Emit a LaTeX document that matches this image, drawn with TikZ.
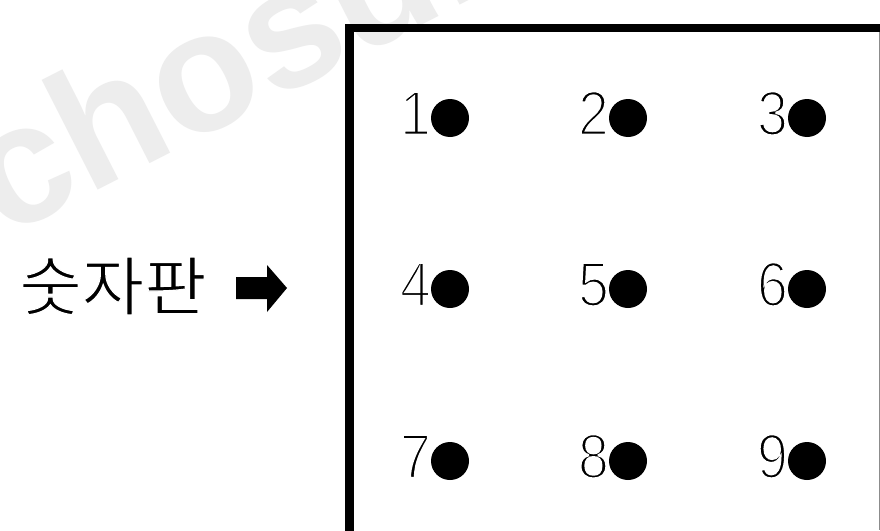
\documentclass[tikz,border=0pt]{standalone}
\usepackage{fontspec}
\setmainfont{Liberation Sans}
\newfontfamily\krfont{Noto Sans CJK KR}
\newcommand{\thindigit}[1]{\special{pdf:literal direct 2 Tr 2.5 w 1 G}#1\special{pdf:literal direct 0 Tr 0 G}}
\newcommand{\thintext}[1]{\special{pdf:literal direct 2 Tr 1.2 w 1 G}#1\special{pdf:literal direct 0 Tr 0 G}}
\definecolor{wmgray}{HTML}{EDEDED}
\begin{document}
\begin{tikzpicture}[x=1pt,y=-1pt,
  dot/.style={circle,fill=black,draw=none,minimum size=38pt,inner sep=0pt},
  digit/.style={anchor=base east,inner sep=0pt,xscale=0.88,font=\fontsize{63}{63}\selectfont},
  frameline/.style={line width=8.5pt,line cap=rect},
  watermark/.style={font=\fontsize{170}{170}\selectfont\bfseries,text=wmgray,anchor=mid west,rotate=27,inner sep=0pt}]
\useasboundingbox (0,0) rectangle (880,530);
\fill[white] (0,0) rectangle (880,530);
% watermark
\node[watermark] (wm) at (2,236) {chosun.com};
% frame
\coordinate (fbl) at (349.5,530);
\coordinate (ftl) at (349.5,28);
\coordinate (ftr) at (880,28);
\coordinate (rtop) at (879,32);
\coordinate (rbot) at (879,530);
\draw[line width=1pt,draw=black!45] (rtop) -- (rbot);
\draw[frameline] (fbl) -- (ftl) -- (ftr);
% label and arrow
\node[inner sep=0pt,xscale=1.06,font=\krfont\fontsize{64}{64}\selectfont] (lbl) at (113,286) {\thintext{숫자판}};
\coordinate (arw) at (236,288);
\fill (arw) ++(0,-11) -- ++(31,0) -- ++(0,-12) -- (287,288) -- (267,312) -- (267,299) -- (236,299) -- cycle;
% digits and dots
\foreach \n/\cx/\cy in {1/450/118,2/628/118,3/807/118,4/450/289,5/628/289,6/807/289,7/450/461,8/628/461,9/807/461}{
  \node[digit] (l\n) at (\cx-19,\cy+17) {\thindigit{\n}};
  \node[dot] (d\n) at (\cx,\cy) {};
}
\end{tikzpicture}
\end{document}
